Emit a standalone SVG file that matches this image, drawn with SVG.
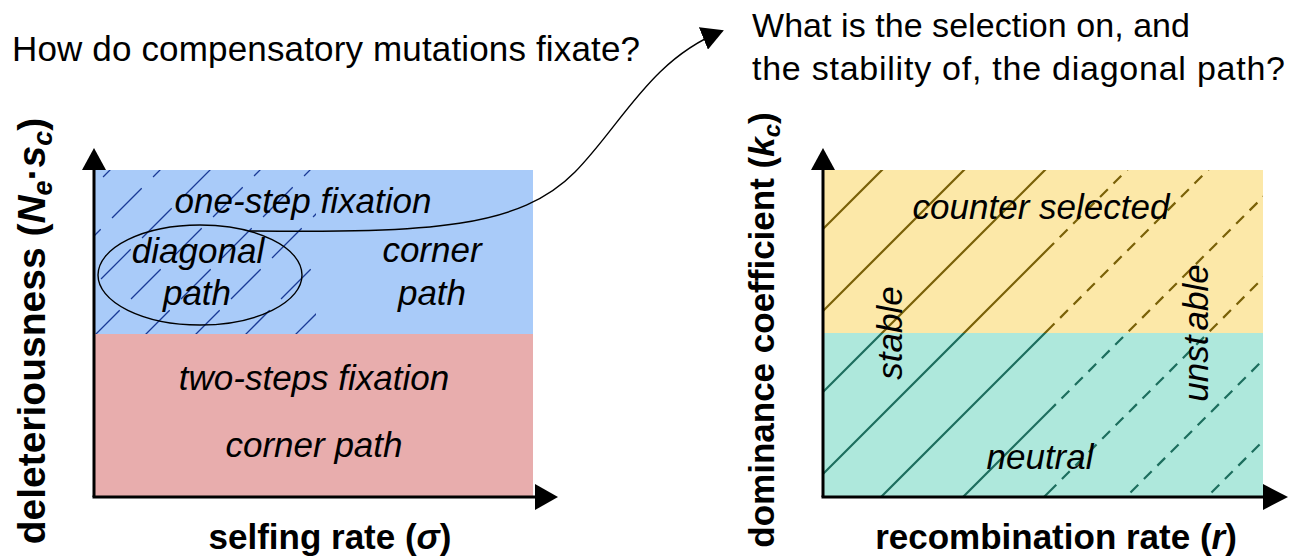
<svg xmlns="http://www.w3.org/2000/svg" width="1293" height="558" viewBox="0 0 1293 558">
  <defs>
    <style>
      .title { font-family: "Liberation Sans", Arial, sans-serif; font-size: 34px; fill: #000; }
      .axis-label { font-family: "Liberation Sans", Arial, sans-serif; font-size: 35px; font-weight: bold; fill: #000; text-anchor: middle; }
      .region-label { font-family: "Liberation Sans", Arial, sans-serif; font-size: 35px; font-style: italic; fill: #000; text-anchor: middle; }
      .axis { stroke: #000; stroke-width: 3; fill: none; }
      .head { fill: #000; }
      .hatch { stroke: #1a3a96; stroke-width: 1.3; stroke-dasharray: 42 16; fill: none; }
      .olive { stroke: #7a6108; stroke-width: 2.2; fill: none; }
      .teal { stroke: #1d6e5e; stroke-width: 2.2; fill: none; }
      .dash { stroke-dasharray: 11 8; }
      .connector { stroke: #000; stroke-width: 1.4; fill: none; }
    </style>
    <marker id="arrow" markerUnits="userSpaceOnUse" viewBox="0 0 22 24" refX="20" refY="12" markerWidth="22" markerHeight="24" orient="auto">
      <path d="M0,0 L22,12 L0,24 z" fill="#000"/>
    </marker>
    <clipPath id="clipHatch"><rect x="94" y="170" width="222" height="164"/></clipPath>
    <clipPath id="clipYL"><rect x="823" y="170" width="227" height="163"/></clipPath>
    <clipPath id="clipYR"><rect x="1050" y="170" width="213" height="163"/></clipPath>
    <clipPath id="clipTL"><rect x="823" y="333" width="227" height="164"/></clipPath>
    <clipPath id="clipTR"><rect x="1050" y="333" width="213" height="164"/></clipPath>
  </defs>

  <rect width="1293" height="558" fill="#fff"/>

  <!-- Titles -->
  <g id="title-left">
    <text class="title" x="12" y="61" style="font-size:35px" textLength="628" lengthAdjust="spacing">How do compensatory mutations fixate?</text>
  </g>
  <g id="title-right">
    <text class="title" x="752" y="37" textLength="438" lengthAdjust="spacing">What is the selection on, and</text>
    <text class="title" x="752" y="80" textLength="533" lengthAdjust="spacing">the stability of, the diagonal path?</text>
  </g>

  <!-- Left plot -->
  <g id="left-plot">
    <rect id="one-step-region" x="94" y="170" width="439" height="164" fill="#a9cbf9"/>
    <rect id="two-steps-region" x="94" y="334" width="439" height="163" fill="#e8adad"/>
    <g id="left-hatch" clip-path="url(#clipHatch)">
      <line class="hatch" x1="-20" y1="300" x2="300" y2="-20"/>
      <line class="hatch" x1="30" y1="300" x2="350" y2="-20"/>
      <line class="hatch" x1="60" y1="320" x2="400" y2="-20"/>
      <line class="hatch" x1="90" y1="340" x2="450" y2="-20"/>
      <line class="hatch" x1="140" y1="340" x2="500" y2="-20"/>
      <line class="hatch" x1="190" y1="340" x2="550" y2="-20"/>
      <line class="hatch" x1="240" y1="340" x2="600" y2="-20"/>
      <line class="hatch" x1="290" y1="340" x2="650" y2="-20"/>
    </g>
    <g id="left-axes">
      <line class="axis" x1="94" y1="497" x2="94" y2="166"/>
      <polygon class="head" points="82,170 106,170 94,148"/>
      <line class="axis" x1="92.5" y1="497" x2="540" y2="497"/>
      <polygon class="head" points="535,484 535,510 558,497"/>
    </g>
  </g>

  <g id="node-one-step">
    <text class="region-label" x="303" y="213">one-step fixation</text>
  </g>
  <g id="node-diagonal-path">
    <ellipse cx="200" cy="275" rx="102" ry="50" fill="none" stroke="#000" stroke-width="1.4"/>
    <text class="region-label" x="198" y="263">diagonal</text>
    <text class="region-label" x="197" y="305">path</text>
  </g>
  <g id="node-corner-path-top">
    <text class="region-label" x="432" y="262">corner</text>
    <text class="region-label" x="432" y="305">path</text>
  </g>
  <g id="node-two-steps">
    <text class="region-label" x="314" y="390">two-steps fixation</text>
    <text class="region-label" x="314" y="457">corner path</text>
  </g>

  <g id="label-left-x">
    <text class="axis-label" x="330" y="549">selfing rate (<tspan font-style="italic">σ</tspan>)</text>
  </g>
  <g id="label-left-y">
    <text class="axis-label" style="font-size:39px" transform="translate(45,331) rotate(-90)">deleteriousness (<tspan font-style="italic">N</tspan><tspan font-style="italic" font-size="27" dy="7">e</tspan><tspan dy="-7">·</tspan><tspan font-style="italic">s</tspan><tspan font-style="italic" font-size="27" dy="7">c</tspan><tspan dy="-7">)</tspan></text>
  </g>

  <!-- Right plot -->
  <g id="right-plot">
    <rect id="counter-region" x="823" y="170" width="440" height="163" fill="#fce8a8"/>
    <rect id="neutral-region" x="823" y="333" width="440" height="164" fill="#aee8dc"/>
    <g id="right-lines">
      <g clip-path="url(#clipYL)">
        <path class="olive" d="M452,600 L952,100 M534,600 L1034,100 M615,600 L1115,100 M697,600 L1197,100 M778,600 L1278,100 M860,600 L1360,100 M941,600 L1441,100 M1023,600 L1523,100 M1104,600 L1604,100"/>
      </g>
      <g clip-path="url(#clipYR)">
        <path class="olive dash" d="M452,600 L952,100 M534,600 L1034,100 M615,600 L1115,100 M697,600 L1197,100 M778,600 L1278,100 M860,600 L1360,100 M941,600 L1441,100 M1023,600 L1523,100 M1104,600 L1604,100"/>
      </g>
      <g clip-path="url(#clipTL)">
        <path class="teal" d="M452,600 L952,100 M534,600 L1034,100 M615,600 L1115,100 M697,600 L1197,100 M778,600 L1278,100 M860,600 L1360,100 M941,600 L1441,100 M1023,600 L1523,100 M1104,600 L1604,100"/>
      </g>
      <g clip-path="url(#clipTR)">
        <path class="teal dash" d="M452,600 L952,100 M534,600 L1034,100 M615,600 L1115,100 M697,600 L1197,100 M778,600 L1278,100 M860,600 L1360,100 M941,600 L1441,100 M1023,600 L1523,100 M1104,600 L1604,100"/>
      </g>
    </g>
    <g id="right-axes">
      <line class="axis" x1="823" y1="497" x2="823" y2="166"/>
      <polygon class="head" points="811,170 835,170 823,148"/>
      <line class="axis" x1="821.5" y1="497" x2="1268" y2="497"/>
      <polygon class="head" points="1263,484 1263,510 1288,497"/>
    </g>
  </g>

  <g id="node-counter-selected">
    <text class="region-label" x="1041" y="219">counter selected</text>
  </g>
  <g id="node-neutral">
    <text class="region-label" x="1040" y="469">neutral</text>
  </g>
  <g id="node-stable">
    <text class="region-label" transform="translate(902,333) rotate(-90)">stable</text>
  </g>
  <g id="node-unstable">
    <text class="region-label" transform="translate(1208,333) rotate(-90)">unst<tspan dx="5">able</tspan></text>
  </g>

  <g id="label-right-x">
    <text class="axis-label" x="1056" y="549">recombination rate (<tspan font-style="italic">r</tspan>)</text>
  </g>
  <g id="label-right-y">
    <text class="axis-label" transform="translate(774,330) rotate(-90)">dominance coefficient (<tspan font-style="italic">k</tspan><tspan font-style="italic" font-size="24" dy="6">c</tspan><tspan dy="-6">)</tspan></text>
  </g>

  <!-- Connectors -->
  <g id="connectors">
    <path class="connector" d="M250,231 C430,233 520,228 575,172 C622,124 650,60 722,31" marker-end="url(#arrow)"/>
  </g>
</svg>
